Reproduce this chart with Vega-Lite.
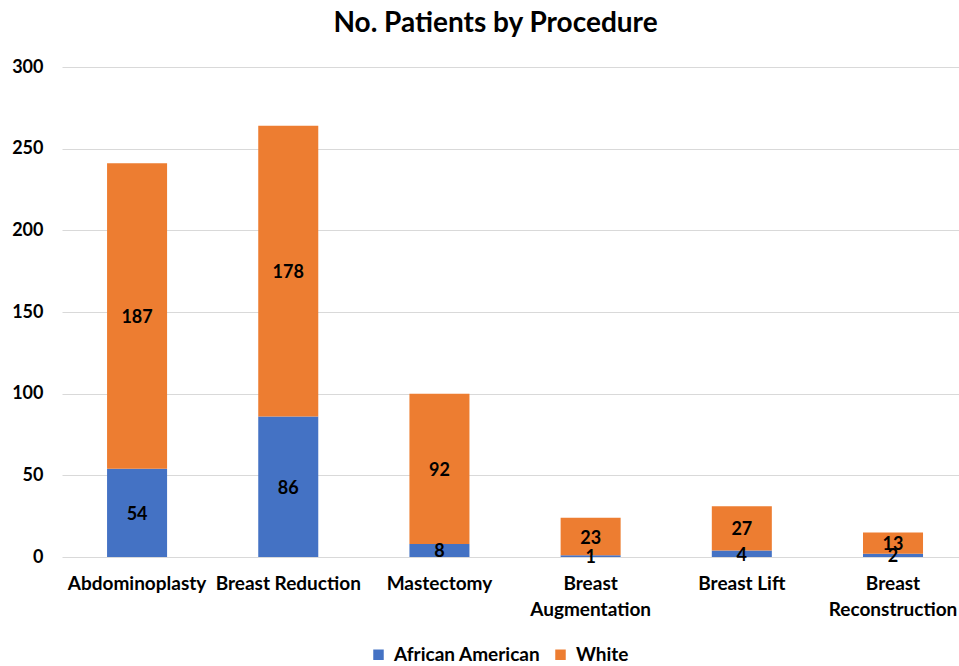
{
  "$schema": "https://vega.github.io/schema/vega-lite/v6.json",
  "autosize": {"type": "none"},
  "width": 897,
  "height": 490,
  "padding": {"left": 62, "top": 67, "right": 0, "bottom": 109},
  "background": "white",
  "title": {
    "text": "No. Patients by Procedure",
    "font": "Lato",
    "fontSize": 28,
    "fontWeight": "bold",
    "color": "#000000",
    "anchor": "middle",
    "dx": -15,
    "offset": 20
  },
  "data": {
    "values": [
      {"procedure": "Abdominoplasty", "race": "African American", "n": 54},
      {"procedure": "Abdominoplasty", "race": "White", "n": 187},
      {"procedure": "Breast Reduction", "race": "African American", "n": 86},
      {"procedure": "Breast Reduction", "race": "White", "n": 178},
      {"procedure": "Mastectomy", "race": "African American", "n": 8},
      {"procedure": "Mastectomy", "race": "White", "n": 92},
      {"procedure": "Breast Augmentation", "race": "African American", "n": 1},
      {"procedure": "Breast Augmentation", "race": "White", "n": 23},
      {"procedure": "Breast Lift", "race": "African American", "n": 4},
      {"procedure": "Breast Lift", "race": "White", "n": 27},
      {"procedure": "Breast Reconstruction", "race": "African American", "n": 2},
      {"procedure": "Breast Reconstruction", "race": "White", "n": 13}
    ]
  },
  "transform": [
    {"stack": "n", "groupby": ["procedure"], "sort": [{"field": "race", "order": "ascending"}], "as": ["n0", "n1"]},
    {"calculate": "(datum.n0 + datum.n1) / 2", "as": "labelPos"}
  ],
  "encoding": {
    "x": {
      "field": "procedure",
      "type": "nominal",
      "sort": ["Abdominoplasty", "Breast Reduction", "Mastectomy", "Breast Augmentation", "Breast Lift", "Breast Reconstruction"],
      "scale": {"paddingInner": 0.603, "paddingOuter": 0.268, "align": 0.556},
      "axis": {
        "title": null,
        "labelAngle": 0,
        "labelFont": "Lato",
        "labelFontSize": 19,
        "labelFontWeight": "bold",
        "labelColor": "#000000",
        "labelPadding": 17,
        "labelLineHeight": 26,
        "labelOverlap": false,
        "labelFlush": false,
        "labelLimit": 0,
        "labelBound": false,
        "ticks": false,
        "domain": false,
        "labelExpr": "datum.value == 'Breast Augmentation' || datum.value == 'Breast Reconstruction' ? split(datum.value, ' ') : datum.value"
      }
    }
  },
  "layer": [
    {
      "mark": {"type": "bar"},
      "encoding": {
        "y": {
          "field": "n1",
          "type": "quantitative",
          "scale": {"domain": [0, 300], "nice": false},
          "axis": {
            "title": null,
            "values": [0, 50, 100, 150, 200, 250, 300],
            "labelFont": "Lato",
            "labelFontSize": 18,
            "labelFontWeight": "bold",
            "labelColor": "#000000",
            "labelPadding": 19,
            "ticks": false,
            "domain": false,
            "grid": true,
            "gridColor": "#D9D9D9",
            "gridWidth": 1
          }
        },
        "y2": {"field": "n0"},
        "color": {
          "field": "race",
          "type": "nominal",
          "scale": {"domain": ["African American", "White"], "range": ["#4472C4", "#ED7D31"]},
          "legend": {
            "title": null,
            "orient": "none",
            "direction": "horizontal",
            "legendX": 307,
            "legendY": 578,
            "symbolType": "square",
            "symbolSize": 110,
            "symbolStrokeWidth": 0,
            "labelFont": "Lato",
            "labelFontSize": 19,
            "labelFontWeight": "bold",
            "labelColor": "#000000",
            "columnPadding": 10,
            "labelOffset": 6
          }
        }
      }
    },
    {
      "mark": {"type": "text", "font": "Lato", "fontSize": 18, "fontWeight": "bold", "color": "#000000", "baseline": "middle", "dy": 2},
      "encoding": {
        "y": {"field": "labelPos", "type": "quantitative"},
        "text": {"field": "n", "type": "quantitative"}
      }
    }
  ],
  "config": {"view": {"stroke": null}}
}
